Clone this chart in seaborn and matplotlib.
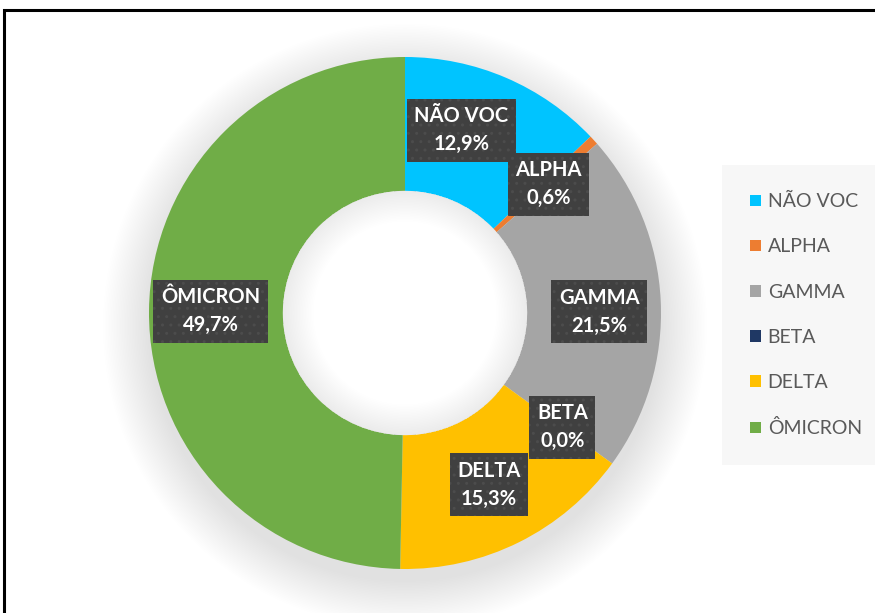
import matplotlib
import matplotlib.pyplot as plt
import numpy as np
import seaborn as sns
from matplotlib.patches import Circle, Patch, Rectangle, Wedge

matplotlib.use("Agg")

variants = ["NÃO VOC", "ALPHA", "GAMMA", "BETA", "DELTA", "ÔMICRON"]
shares = [12.9, 0.6, 21.5, 0.0, 15.3, 49.7]
labels = ["12,9%", "0,6%", "21,5%", "0,0%", "15,3%", "49,7%"]
colors = ["#00C4FF", "#ED7D31", "#A5A5A5", "#1F3864", "#FFC000", "#70AD47"]

sns.set_theme(style="white")
plt.rcParams["font.family"] = ["Lato", "DejaVu Sans"]

fig = plt.figure(figsize=(8.75, 6.13), dpi=100)
ax = fig.add_axes([0, 0, 1, 1])
scale = 256

# soft drop shadow behind the ring
for r in np.linspace(1.18, 1.0, 30):
    ax.add_patch(Circle((0, -0.05), r, color="black", alpha=0.0035, lw=0, zorder=0))

hole = 0.477
wedges, _ = ax.pie(
    shares,
    colors=colors,
    startangle=90,
    counterclock=False,
    radius=1.0,
    wedgeprops={"width": 1 - hole, "linewidth": 0},
)
ax.set_xlim(-405 / scale, (875 - 405) / scale)
ax.set_ylim(-300 / scale, 313 / scale)
ax.set_aspect("auto")
ax.axis("off")

# white hole with inner shading at the rim
ax.add_patch(Circle((0, 0), hole, color="white", lw=0, zorder=2))
for w in np.linspace(0.12, 0.005, 20):
    ax.add_patch(Wedge((0, 0), hole, 0, 360, width=w, color="black", alpha=0.0025, lw=0, zorder=2))

nudge = {0: (-0.08, 0.015), 1: (0.0, -0.01), 2: (0.0, -0.03), 4: (-0.01, 0.01)}
for i, (wedge, name, lab) in enumerate(zip(wedges, variants, labels)):
    mid = np.deg2rad((wedge.theta1 + wedge.theta2) / 2)
    dx, dy = nudge.get(i, (0, 0))
    x = 0.76 * np.cos(mid) + dx
    y = 0.76 * np.sin(mid) + dy
    ax.text(
        x, y, f"{name}\n{lab}",
        ha="center", va="center", color="white", fontsize=14.5,
        fontweight="bold", linespacing=1.5, zorder=5,
        bbox={"boxstyle": "square,pad=0.38", "facecolor": "#404040",
              "edgecolor": "#4c4c4c", "hatch": "..", "linewidth": 0},
    )

handles = [Patch(facecolor=c, edgecolor="none") for c in colors]
leg = ax.legend(
    handles, variants,
    loc="upper left", bbox_to_anchor=(722 / 875, 1 - 165 / 613),
    bbox_transform=fig.transFigure,
    frameon=True, facecolor="#F7F7F7", edgecolor="none", framealpha=1,
    fontsize=14, labelcolor="#595959", handlelength=0.55, handleheight=0.55,
    handletextpad=0.35, labelspacing=1.45, borderpad=1.45, borderaxespad=0,
    fancybox=False,
)
leg.set_zorder(6)

fig.patches.append(
    Rectangle((4 / 875, -0.1), 1.2, 1 - 10 / 613 + 0.1, transform=fig.transFigure,
              fill=False, edgecolor="black", linewidth=2.2)
)

fig.savefig("out.png", dpi=100)
